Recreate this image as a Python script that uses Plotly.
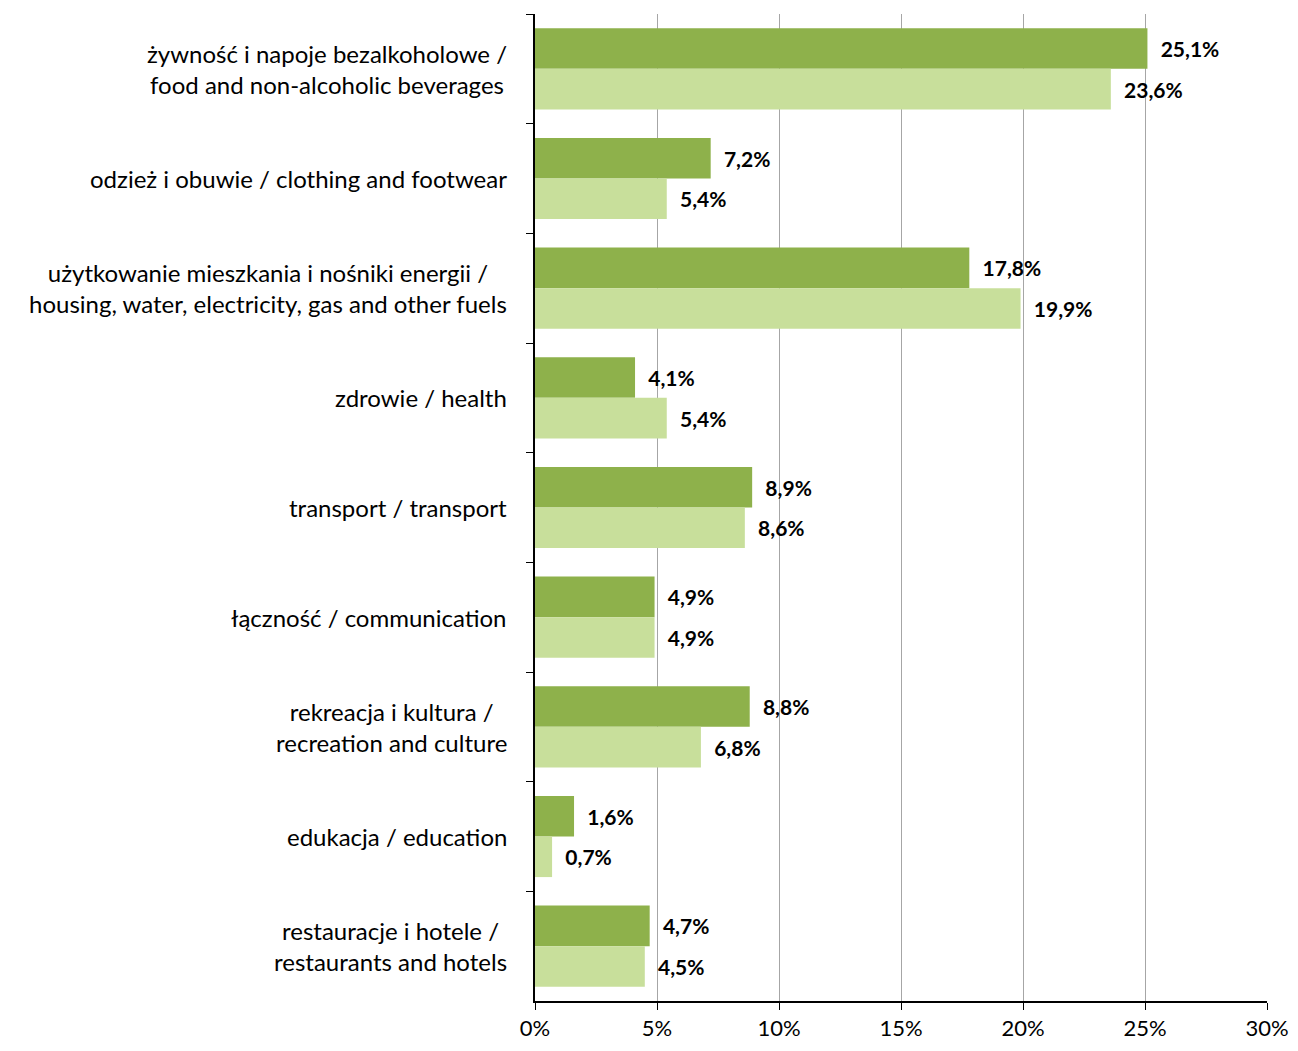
import plotly.graph_objects as go

categories = [
    "żywność i napoje bezalkoholowe /<br>food and non-alcoholic beverages",
    "odzież i obuwie / clothing and footwear",
    "użytkowanie mieszkania i nośniki energii /<br>housing, water, electricity, gas and other fuels",
    "zdrowie / health",
    "transport / transport",
    "łączność / communication",
    "rekreacja i kultura /<br>recreation and culture",
    "edukacja / education",
    "restauracje i hotele /<br>restaurants and hotels",
]
series_dark = [25.1, 7.2, 17.8, 4.1, 8.9, 4.9, 8.8, 1.6, 4.7]
series_light = [23.6, 5.4, 19.9, 5.4, 8.6, 4.9, 6.8, 0.7, 4.5]

FONT = "Lato"

fig = go.Figure()
for vals, color in [(series_dark, "#8EB14B"), (series_light, "#C8DF9B")]:
    fig.add_trace(go.Bar(
        y=categories,
        x=vals,
        orientation="h",
        marker=dict(color=color, line=dict(width=0)),
        texttemplate="\u00a0\u00a0%{x:.1f}%",
        textposition="outside",
        cliponaxis=False,
        textfont=dict(family=FONT, size=21, color="black", weight="bold"),
        showlegend=False,
    ))

# category labels as annotations so multi-line text is centred
for cat in categories:
    fig.add_annotation(
        x=0, y=cat, xref="x", yref="y",
        text=cat, showarrow=False,
        xanchor="right", align="center",
        xshift=-26,
        font=dict(family=FONT, size=24, color="black"),
    )

fig.update_layout(
    width=1290, height=1035,
    margin=dict(l=527, r=31, t=6, b=42),
    paper_bgcolor="white", plot_bgcolor="white",
    barmode="group", bargap=0.26, bargroupgap=0,
    separators=", ",
    font=dict(family=FONT, size=24, color="black"),
)
fig.update_xaxes(
    range=[0, 30], dtick=5, ticksuffix="%",
    automargin=False,
    showgrid=True, gridcolor="#A6A6A6", gridwidth=1,
    zeroline=False,
    showline=True, linecolor="black", linewidth=1.5,
    ticks="outside", ticklen=7, tickcolor="black",
    ticklabelstandoff=0,
    ticklabeloverflow="allow",
    tickfont=dict(family=FONT, size=22),
)
fig.update_yaxes(
    type="category", autorange="reversed",
    automargin=False,
    showticklabels=False,
    tickson="boundaries",
    showgrid=False, zeroline=False,
    showline=True, linecolor="black", linewidth=1.5,
    ticks="outside", ticklen=7, tickcolor="black",
)

fig.write_html("out.html")
